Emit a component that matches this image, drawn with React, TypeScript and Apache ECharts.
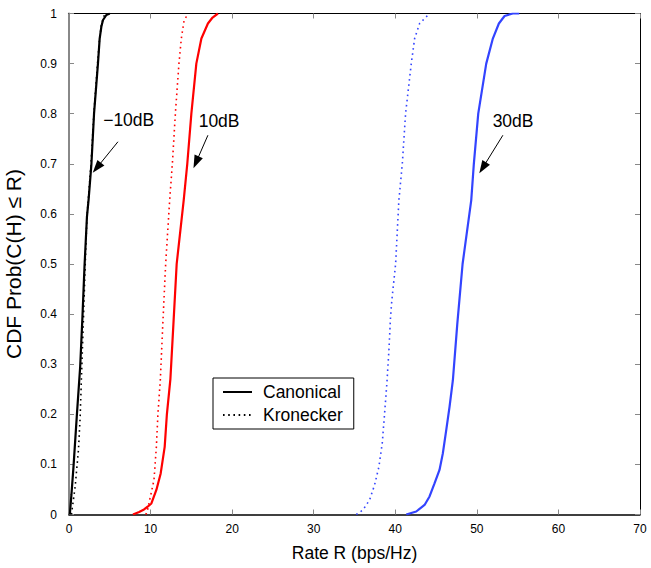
import React, { useEffect, useRef } from "react";
import * as echarts from "echarts";

// Rate R (bps/Hz), CDF value pairs
const canonicalM10: [number, number][] = [
  [0.1, 0], [0.3, 0.04], [0.55, 0.095], [0.95, 0.195], [1.37, 0.295], [1.65, 0.395],
  [1.9, 0.495], [2.2, 0.594], [2.4, 0.628], [2.75, 0.7], [3.07, 0.8], [3.55, 0.9],
  [3.76, 0.95], [3.97, 0.974], [4.17, 0.987], [4.58, 0.997], [5.0, 1],
];
const kroneckerM10: [number, number][] = [
  [0.3, 0], [0.75, 0.055], [1.16, 0.129], [1.37, 0.195], [1.57, 0.295], [1.78, 0.395],
  [1.98, 0.495], [2.2, 0.594], [2.7, 0.7], [3.05, 0.8], [3.5, 0.9], [3.75, 0.95],
  [4.0, 0.98], [4.4, 1],
];
const canonical10: [number, number][] = [
  [7.84, 0], [8.6, 0.005], [9.2, 0.01], [9.68, 0.016], [10.1, 0.022], [10.71, 0.049],
  [11.24, 0.082], [11.73, 0.135], [12.0, 0.2], [12.43, 0.27], [12.8, 0.38], [13.2, 0.5],
  [14.06, 0.627], [14.5, 0.7], [15.0, 0.8], [15.61, 0.9], [16.23, 0.95], [17.03, 0.98],
  [17.6, 0.992], [18.26, 1],
];
const kronecker10: [number, number][] = [
  [9.4, 0], [9.56, 0.004], [9.89, 0.029], [10.42, 0.069], [10.71, 0.135], [10.9, 0.2],
  [11.2, 0.27], [11.5, 0.38], [11.85, 0.5], [12.34, 0.627], [12.67, 0.7], [13.04, 0.8],
  [13.48, 0.9], [13.77, 0.95], [14.1, 0.985], [14.58, 1],
];
const canonical30: [number, number][] = [
  [41.35, 0], [42.57, 0.006], [43.59, 0.019], [44.2, 0.036], [44.81, 0.062], [45.42, 0.089],
  [45.83, 0.122], [46.25, 0.169], [46.65, 0.215], [47.06, 0.268], [47.6, 0.38], [48.25, 0.5],
  [49.31, 0.627], [49.63, 0.7], [50.17, 0.8], [51.15, 0.9], [51.96, 0.95], [52.7, 0.98],
  [53.4, 0.995], [54.4, 1], [55.2, 1],
];
const kronecker30: [number, number][] = [
  [35.22, 0], [36.03, 0.009], [36.85, 0.029], [37.46, 0.059], [37.99, 0.095], [38.4, 0.142],
  [38.69, 0.202], [38.97, 0.262], [39.22, 0.328], [39.42, 0.395], [39.58, 0.428], [40.04, 0.5],
  [40.44, 0.627], [40.86, 0.7], [41.26, 0.8], [41.96, 0.9], [42.37, 0.95], [42.98, 0.98],
  [44.2, 1],
];

const legendNames = ["Canonical", "Kronecker"];
const snrLabels = ["\u221210dB", "10dB", "30dB"];
// annotation anchors in data coordinates
const labelPos: [number, number][] = [[7.32, 0.787], [18.4, 0.785], [54.44, 0.785]];
const arrowTail: [number, number][] = [[6.0, 0.744], [17.03, 0.757], [53.19, 0.757]];
const arrowHead: [number, number][] = [[3.41, 0.692], [15.58, 0.703], [50.72, 0.692]];

const FONT = "'Liberation Sans', Arial, Helvetica, sans-serif";
const colors = ["#000000", "#ff0000", "#3344ff"];

export default function App() {
  const ref = useRef<HTMLDivElement>(null);
  useEffect(() => {
    if (!ref.current) return;
    const chart = echarts.init(ref.current, undefined, { renderer: "svg" });
    const solids = [canonicalM10, canonical10, canonical30];
    const dotted = [kroneckerM10, kronecker10, kronecker30];
    const series: any[] = [];
    solids.forEach((d, i) => {
      series.push({
        name: legendNames[0],
        type: "line",
        data: d,
        symbol: "none",
        lineStyle: { color: colors[i], width: 2.2, type: "solid" },
        itemStyle: { color: colors[i] },
        z: 3,
        markLine: {
          silent: true,
          animation: false,
          symbol: ["none", "triangle"],
          symbolSize: [9, 13],
          lineStyle: { color: "#000", width: 1, type: "solid" },
          itemStyle: { color: "#000" },
          label: { show: false },
          emphasis: { disabled: true },
          data: [[{ coord: arrowTail[i] }, { coord: arrowHead[i] }]],
        },
        markPoint: {
          silent: true,
          animation: false,
          symbol: "circle",
          symbolSize: 0,
          label: {
            show: true,
            position: "inside",
            color: "#000",
            fontSize: 17.5,
            fontFamily: FONT,
          },
          data: [{ name: snrLabels[i], coord: labelPos[i], label: { formatter: snrLabels[i] } }],
        },
      });
    });
    dotted.forEach((d, i) => {
      series.push({
        name: legendNames[1],
        type: "line",
        data: d,
        symbol: "none",
        lineStyle: { color: colors[i], width: 1.6, type: [1.6, 3.6] },
        itemStyle: { color: colors[i] },
        z: 2,
      });
    });

    const tickStyle = { show: true, inside: true, length: 5, lineStyle: { color: "#888", width: 1 } };
    chart.setOption({
      animation: false,
      grid: {
        left: 69,
        right: 11,
        top: 13.5,
        bottom: 53.5,
        containLabel: false,
        outerBoundsMode: "none",
      },
      legend: {
        data: legendNames,
        orient: "vertical",
        left: 213,
        top: 378,
        padding: [5, 11, 5, 9],
        itemWidth: 29,
        itemHeight: 14,
        itemGap: 5,
        borderColor: "#000",
        borderWidth: 1,
        backgroundColor: "#fff",
        itemStyle: { opacity: 0, borderWidth: 0 },
        textStyle: { color: "#000", fontSize: 17.5, fontFamily: FONT, lineHeight: 18, padding: [0, 0, 0, 6] },
        selectedMode: false,
      },
      xAxis: [
        {
          type: "value",
          min: 0,
          max: 70,
          interval: 10,
          position: "bottom",
          name: "Rate R (bps/Hz)",
          nameLocation: "middle",
          nameGap: 29,
          nameTextStyle: { color: "#000", fontSize: 17.5, fontFamily: FONT },
          axisLine: { show: true, onZero: false, lineStyle: { color: "#000", width: 1.5 } },
          axisTick: tickStyle,
          axisLabel: { color: "#000", fontSize: 12, fontFamily: FONT, margin: 8 },
          splitLine: { show: false },
        },
        {
          type: "value",
          min: 0,
          max: 70,
          interval: 10,
          position: "top",
          axisLine: { show: true, onZero: false, lineStyle: { color: "#000", width: 1 } },
          axisTick: tickStyle,
          axisLabel: { show: false },
          splitLine: { show: false },
        },
      ],
      yAxis: [
        {
          type: "value",
          min: 0,
          max: 1,
          interval: 0.1,
          position: "left",
          name: "CDF Prob(C(H) \u2264 R)",
          nameLocation: "middle",
          nameGap: 45,
          nameTextStyle: { color: "#000", fontSize: 21, fontFamily: FONT },
          axisLine: { show: true, onZero: false, lineStyle: { color: "#888", width: 2 } },
          axisTick: tickStyle,
          axisLabel: { color: "#000", fontSize: 12, fontFamily: FONT, margin: 12 },
          splitLine: { show: false },
        },
        {
          type: "value",
          min: 0,
          max: 1,
          interval: 0.1,
          position: "right",
          axisLine: { show: true, onZero: false, lineStyle: { color: "#000", width: 1 } },
          axisTick: tickStyle,
          axisLabel: { show: false },
          splitLine: { show: false },
        },
      ],
      series,
    });
    return () => chart.dispose();
  }, []);
  return (
    <div
      ref={ref}
      style={{ position: "fixed", left: 0, top: 0, width: 651, height: 568, background: "#fff" }}
    />
  );
}
